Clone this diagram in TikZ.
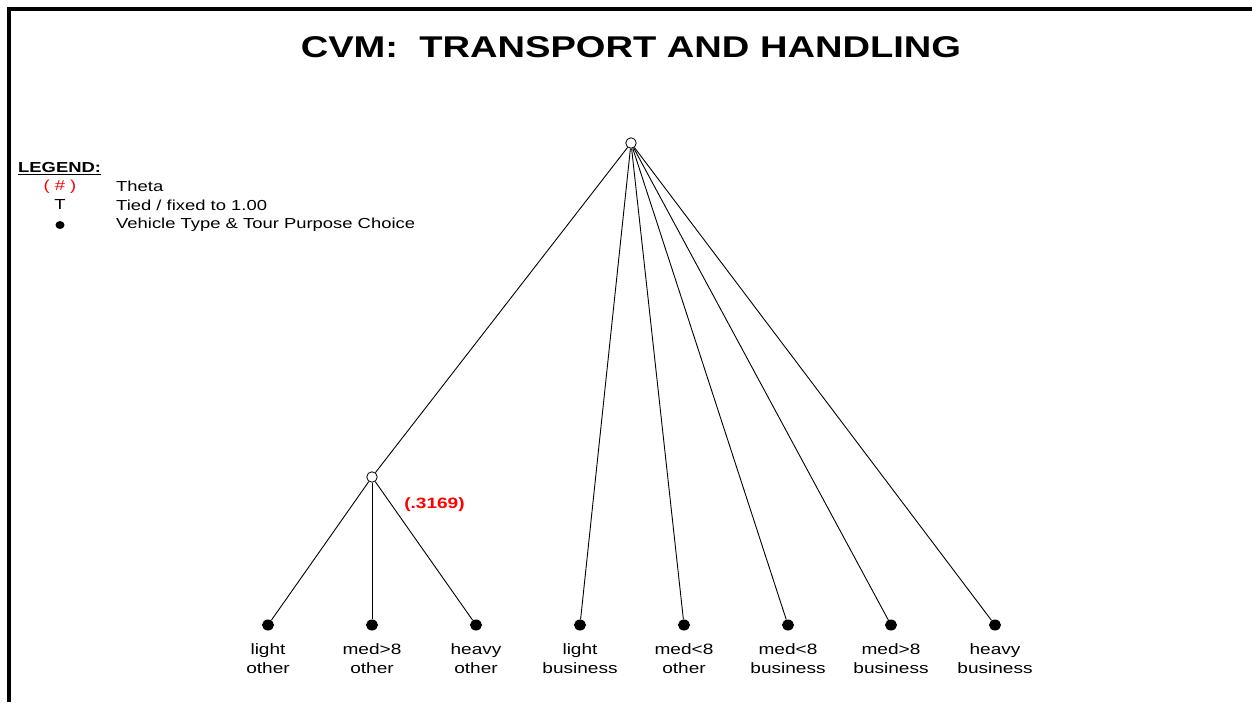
\documentclass[tikz,border=0pt]{standalone}
\usepackage{fontspec}
\setmainfont[FakeStretch=1.27]{Liberation Sans}
\usetikzlibrary{shapes.geometric}
\begin{document}
\begin{tikzpicture}[x=1pt,y=-1pt,
  opennode/.style={circle,draw,line width=0.8pt,minimum width=10.5pt,minimum height=10pt,inner sep=0pt,fill=white},
  leafnode/.style={ellipse,fill=black,minimum width=12pt,minimum height=11pt,inner sep=0pt},
  leaflabel/.style={font=\fontsize{15}{19.5}\selectfont,align=center,anchor=north,inner sep=0pt},
  edge/.style={line width=0.9pt},
  legtext/.style={font=\fontsize{14.5}{17}\selectfont,anchor=west,inner sep=0pt}]
\useasboundingbox (0,0) rectangle (1252,702);
\fill[white] (0,0) rectangle (1252,702);
% frame
\draw[line width=4pt] (8.5,702) -- (8.5,9) -- (1252,9);
% title
\node[font=\bfseries\fontsize{30}{36}\selectfont,inner sep=0pt] (title) at (631,47) {CVM:\ \ TRANSPORT AND HANDLING};
% legend
\node[font=\bfseries\fontsize{14.5}{17}\selectfont,anchor=west,inner sep=0pt] (leg) at (18,169) {\underline{LEGEND:}};
\node[font=\fontsize{14.5}{17}\selectfont,text=red,inner sep=0pt] (l1s) at (60,187) {( \# )};
\node[legtext] (l1t) at (116,186) {Theta};
\node[font=\fontsize{14.5}{17}\selectfont,inner sep=0pt] (l2s) at (60,205) {T};
\node[legtext] (l2t) at (116,205) {Tied / fixed to 1.00};
\fill (60,225) ellipse (4.5 and 4);
\node[legtext] (l3t) at (116,225) {Vehicle Type \& Tour Purpose Choice};
% nodes
\node[opennode] (root) at (631,143) {};
\node[opennode] (sub) at (372,477) {};
\node[font=\bfseries\fontsize{15}{18}\selectfont,text=red,inner sep=0pt] (theta) at (434.5,505) {(.3169)};
\foreach \i/\x/\a/\b in {1/268/light/other,2/372/med>8/other,3/476/heavy/other,4/580/light/business,5/684/med<8/other,6/788/med<8/business,7/891/med>8/business,8/995/heavy/business}{
  \node[leafnode] (leaf\i) at (\x,625) {};
  \node[leaflabel] (lab\i) at (\x,643) {\a\\\b};
}
\draw[edge] (root) -- (sub);
\foreach \i in {1,2,3}{\draw[edge] (sub) -- (leaf\i);}
\foreach \i in {4,...,8}{\draw[edge] (root) -- (leaf\i);}
\end{tikzpicture}
\end{document}
